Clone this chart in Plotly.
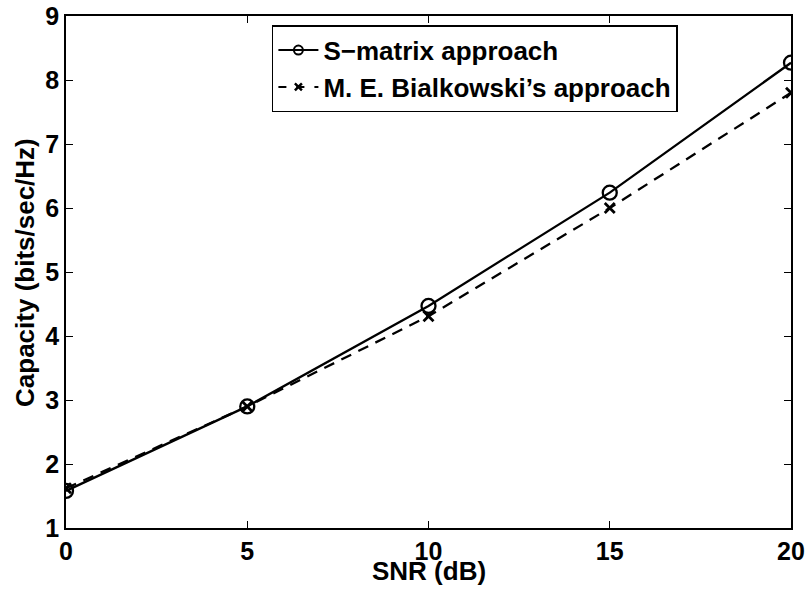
import plotly.graph_objects as go

snr_db = [0, 5, 10, 15, 20]
cap_smatrix = [1.58, 2.90, 4.47, 6.24, 8.27]
cap_bialkowski = [1.62, 2.90, 4.31, 6.00, 7.80]
x_ticks = [0, 5, 10, 15, 20]
y_ticks = [1, 2, 3, 4, 5, 6, 7, 8, 9]
names = ["S\u2212matrix approach", "M. E. Bialkowski\u2019s approach"]
x_title = "SNR (dB)"
y_title = "Capacity (bits/sec/Hz)"

FONT = "Liberation Sans, Arial, Helvetica, sans-serif"
FS = 26
TFS = 25

fig = go.Figure()
# plotted series (legend shown through separate entries with smaller markers)
fig.add_trace(go.Scatter(
    x=snr_db, y=cap_smatrix, mode="lines+markers", name=names[0], showlegend=False,
    line=dict(color="black", width=2.3),
    marker=dict(symbol="circle-open", size=14, color="black", line=dict(width=2.3, color="black")),
))
fig.add_trace(go.Scatter(
    x=snr_db, y=cap_bialkowski, mode="lines+markers", name=names[1], showlegend=False,
    line=dict(color="black", width=2.3, dash="11px,8px"),
    marker=dict(symbol="x-thin-open", size=10, color="black", line=dict(width=2.8, color="black")),
))
# legend entries
fig.add_trace(go.Scatter(
    x=[None], y=[None], mode="lines+markers", name=names[0],
    line=dict(color="black", width=2),
    marker=dict(symbol="circle-open", size=9, color="black", line=dict(width=2, color="black")),
))
fig.add_trace(go.Scatter(
    x=[None], y=[None], mode="lines+markers", name=names[1],
    line=dict(color="black", width=2, dash="8px,10px"),
    marker=dict(symbol="x-thin-open", size=7, color="black", line=dict(width=2.5, color="black")),
))

axis_common = dict(
    showgrid=False, zeroline=False, showline=True, linecolor="black", linewidth=1.5,
    mirror="ticks", ticks="inside", ticklen=7, tickwidth=1, tickcolor="black",
    tickfont=dict(family=FONT, size=TFS, color="black", weight="bold"),
    automargin=False,
)

title_font = dict(family=FONT, size=FS, color="black", weight="bold")

fig.update_layout(
    width=807, height=589,
    margin=dict(l=66, r=16, t=16, b=61),
    paper_bgcolor="white", plot_bgcolor="white",
    font=dict(family=FONT, color="black"),
    xaxis=dict(range=[0, 20], tickvals=x_ticks, **axis_common),
    yaxis=dict(range=[1, 9], tickvals=y_ticks, **axis_common),
    legend=dict(x=0.844, y=0.982, xanchor="right", yanchor="top",
                bgcolor="white", bordercolor="black", borderwidth=1.5,
                font=title_font, tracegroupgap=0, itemwidth=40),
    showlegend=True,
    annotations=[
        dict(text=x_title, xref="paper", yref="paper", x=0.5, y=-0.0840,
             xanchor="center", yanchor="middle", showarrow=False, font=title_font),
        dict(text=y_title, xref="paper", yref="paper", x=-0.0566, y=0.5,
             xanchor="center", yanchor="middle", showarrow=False, textangle=-90,
             font=title_font),
    ],
)

fig.write_html("out.html")
